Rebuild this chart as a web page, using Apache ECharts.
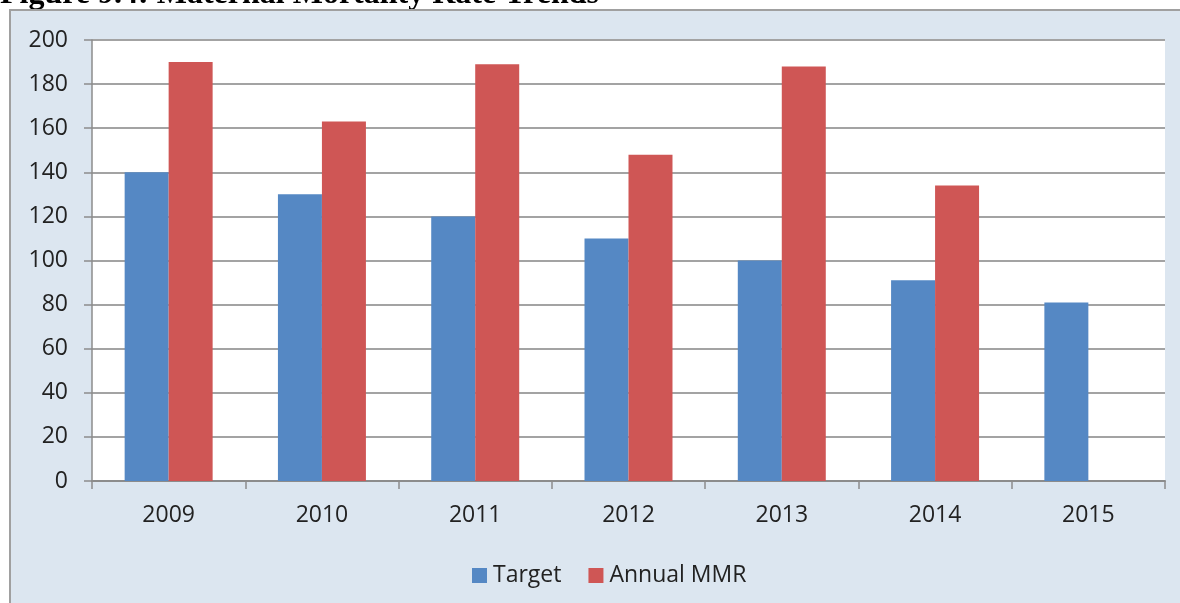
<!DOCTYPE html>
<html>
<head>
<meta charset="utf-8">
<script src="https://cdn.jsdelivr.net/npm/echarts@6/dist/echarts.min.js"></script>
<style>
  html, body { margin: 0; padding: 0; background: #ffffff; }
  #chart { width: 1180px; height: 603px; }
</style>
</head>
<body>
<div id="chart"></div>
<script>
// Maternal mortality: yearly targets against the annual MMR
const years = ['2009', '2010', '2011', '2012', '2013', '2014', '2015'];
const target = [140, 130, 120, 110, 100, 91, 81];
const annualMMR = [190, 163, 189, 148, 188, 134, null];
const seriesNames = ['Target', 'Annual MMR'];
const yTicks = { min: 0, max: 200, interval: 20 };
const titleText = 'Figure 9.4: Maternal Mortality Rate Trends';

const labelFont = '"Open Sans", "DejaVu Sans", sans-serif';
const gridColor = '#a3a3a3';

const chart = echarts.init(document.getElementById('chart'), null, { renderer: 'canvas' });

chart.setOption({
  animation: false,
  backgroundColor: '#ffffff',
  color: ['#5588c4', '#cf5655'],
  graphic: [
    {
      type: 'text',
      z: -20,
      left: 0,
      top: -21,
      style: {
        text: titleText,
        font: 'bold 32px "Liberation Serif", "Times New Roman", serif',
        fill: '#000000'
      }
    },
    {
      type: 'rect',
      z: -10,
      shape: { x: 10, y: 10, width: 1200, height: 620 },
      style: { fill: '#dce6f0', stroke: '#a0a0a0', lineWidth: 2 }
    }
  ],
  grid: {
    left: 92, right: 15, top: 40, bottom: 122,
    show: true, backgroundColor: '#ffffff', borderWidth: 0
  },
  legend: {
    data: seriesNames,
    left: 467,
    top: 559,
    itemWidth: 15,
    itemHeight: 15,
    itemGap: 27,
    icon: 'rect',
    textStyle: { fontFamily: labelFont, fontSize: 23, color: '#222222', padding: [0, 0, 0, 1] }
  },
  xAxis: {
    type: 'category',
    data: years,
    boundaryGap: true,
    axisLine: { show: true, lineStyle: { color: '#8c8c8c', width: 2 } },
    axisTick: { show: true, length: 8, lineStyle: { color: '#8c8c8c', width: 1.5 } },
    axisLabel: { fontFamily: labelFont, fontSize: 23, color: '#222222', margin: 23 },
    splitLine: { show: false }
  },
  yAxis: {
    type: 'value',
    min: yTicks.min,
    max: yTicks.max,
    interval: yTicks.interval,
    axisLine: { show: true, lineStyle: { color: '#8c8c8c', width: 1.5 } },
    axisTick: { show: true, length: 8, lineStyle: { color: '#8c8c8c', width: 1.5 } },
    axisLabel: { fontFamily: labelFont, fontSize: 23, color: '#222222', margin: 24 },
    splitLine: { show: true, lineStyle: { color: gridColor, width: 2 } }
  },
  series: [
    {
      name: seriesNames[0],
      type: 'bar',
      data: target,
      barGap: '0%',
      barCategoryGap: '42.6%'
    },
    {
      name: seriesNames[1],
      type: 'bar',
      data: annualMMR,
      barGap: '0%',
      barCategoryGap: '42.6%'
    }
  ]
});
</script>
</body>
</html>
